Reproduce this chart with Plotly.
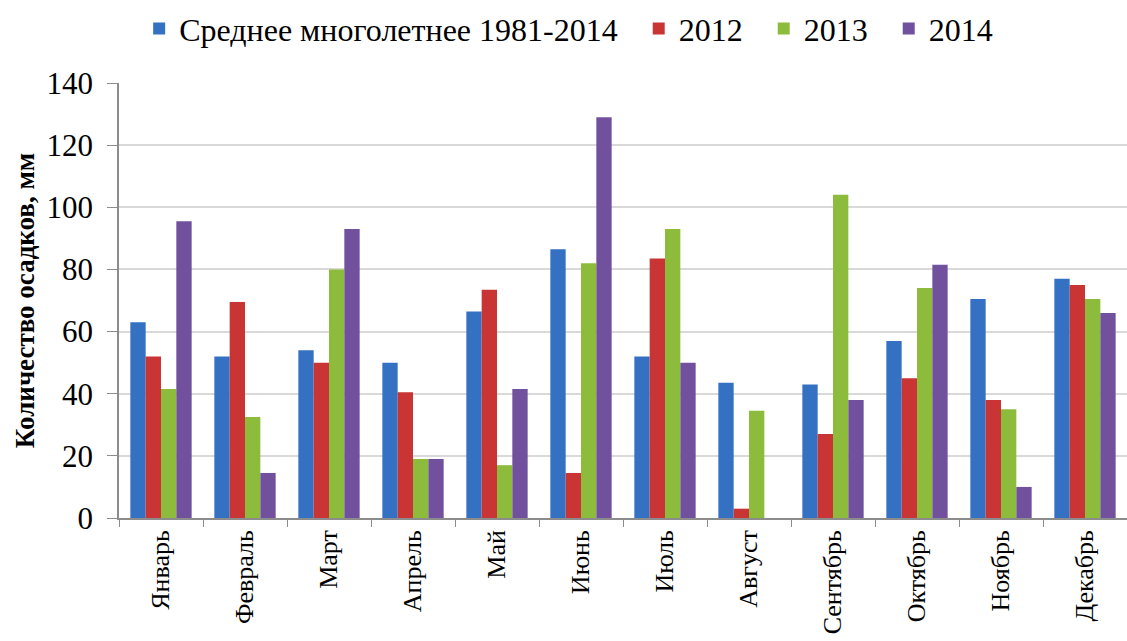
import plotly.graph_objects as go

# Monthly precipitation, mm
months = ["Январь", "Февраль", "Март", "Апрель", "Май", "Июнь",
          "Июль", "Август", "Сентябрь", "Октябрь", "Ноябрь", "Декабрь"]
mean_1981_2014 = [63, 52, 54, 50, 66.5, 86.5, 52, 43.5, 43, 57, 70.5, 77]
y2012 = [52, 69.5, 50, 40.5, 73.5, 14.5, 83.5, 3, 27, 45, 38, 75]
y2013 = [41.5, 32.5, 80, 19, 17, 82, 93, 34.5, 104, 74, 35, 70.5]
y2014 = [95.5, 14.5, 93, 19, 41.5, 129, 50, 0, 38, 81.5, 10, 66]

series_names = ["Среднее многолетнее 1981-2014", "2012", "2013", "2014"]
series_values = [mean_1981_2014, y2012, y2013, y2014]
series_colors = ["#3471c2", "#c93535", "#8dbb3c", "#71519e"]

serif = "Liberation Serif, DejaVu Serif, serif"
pad = "\u00a0\u00a0"  # extra room between legend entries

fig = go.Figure()
for i, (name, vals, color) in enumerate(zip(series_names, series_values, series_colors)):
    label = name + (pad if i < len(series_names) - 1 else "")
    fig.add_trace(go.Bar(x=months, y=vals, name=label,
                         marker=dict(color=color, line=dict(width=0))))

fig.update_layout(
    width=1127, height=641,
    margin=dict(l=119, r=0, t=83, b=123, autoexpand=False),
    paper_bgcolor="white", plot_bgcolor="white",
    barmode="group", bargap=0.27, bargroupgap=0,
    font=dict(family=serif, color="black"),
    legend=dict(orientation="h", x=0.02, xanchor="left", y=1.125, yanchor="middle",
                font=dict(size=32, family=serif), itemwidth=30,
                traceorder="normal"),
    showlegend=True,
)
fig.update_xaxes(
    type="category", showline=True, linecolor="#8c8c8c", linewidth=1.5,
    ticks="outside", tickson="boundaries", ticklen=7, tickcolor="#8c8c8c",
    tickangle=-90, tickfont=dict(size=26, family=serif),
    showgrid=False, automargin=False,
)
fig.update_yaxes(
    range=[0, 140], dtick=20, showline=True, linecolor="#8c8c8c", linewidth=1.5,
    ticks="outside", ticklen=10, tickcolor="#8c8c8c", ticklabelstandoff=8,
    tickfont=dict(size=31, family=serif),
    gridcolor="#d9d9d9", gridwidth=1.5, zeroline=False, automargin=False,
    title=dict(text="<b>Количество осадков, мм</b>", font=dict(size=27, family=serif),
               standoff=4),
)

fig.write_html("out.html")
